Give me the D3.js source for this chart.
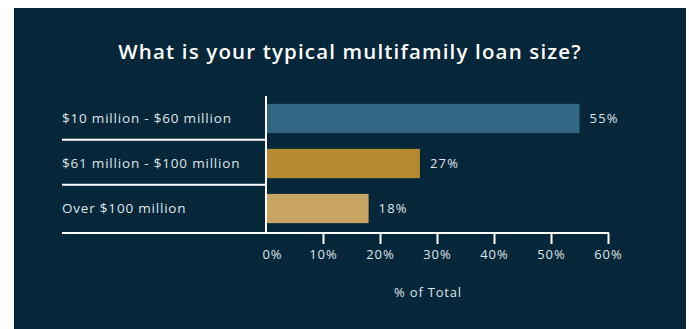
<!DOCTYPE html>
<html>
<head>
<meta charset="utf-8">
<script src="https://cdn.jsdelivr.net/npm/d3@7"></script>
<style>
  html, body { margin: 0; padding: 0; background: #ffffff; }
  svg { display: block; }
  text { font-family: "Open Sans", "Noto Sans", sans-serif; }
</style>
</head>
<body>
<svg id="chart" width="689" height="329"></svg>
<script>
// Loan size buckets and share of respondents (%)
const categories = ["$10 million - $60 million", "$61 million - $100 million", "Over $100 million"];
const shares = [55, 27, 18];
const barColors = ["#336683", "#b68b2f", "#c9a564"];
const xTicks = [0, 10, 20, 30, 40, 50, 60];
const titleText = "What is your typical multifamily loan size?";
const xAxisTitle = "% of Total";

const svg = d3.select("#chart");
const W = 689, H = 329;

// Panel background
svg.append("rect")
  .attr("x", 14).attr("y", 8)
  .attr("width", 672).attr("height", H - 8)
  .attr("fill", "#062739");

svg.append("text")
  .attr("x", 350).attr("y", 59)
  .attr("text-anchor", "middle")
  .attr("fill", "#ffffff")
  .attr("font-size", 20.5)
  .attr("font-weight", 600)
  .attr("letter-spacing", 1.15)
  .text(titleText);

const x = d3.scaleLinear().domain([0, 60]).range([266, 608]);
const y = d3.scaleBand().domain(categories).range([96, 231]).paddingInner(0.35).paddingOuter(0.175);

const labelLeft = 62;
const textColor = "#dfe4e8";

// Row separators just below each bar except the last
const bounds = categories.slice(0, -1).map(c => y(c) + y.bandwidth() + 6.5);
svg.selectAll("line.sep").data(bounds).join("line")
  .attr("class", "sep")
  .attr("x1", labelLeft).attr("x2", x(0))
  .attr("y1", d => d).attr("y2", d => d)
  .attr("stroke", "#ffffff").attr("stroke-width", 2);

// Bars
svg.selectAll("rect.bar").data(shares).join("rect")
  .attr("class", "bar")
  .attr("x", x(0))
  .attr("y", (d, i) => y(categories[i]))
  .attr("width", d => x(d) - x(0))
  .attr("height", y.bandwidth())
  .attr("fill", (d, i) => barColors[i]);

// Value labels
svg.selectAll("text.val").data(shares).join("text")
  .attr("class", "val")
  .attr("x", d => x(d) + 10)
  .attr("y", (d, i) => y(categories[i]) + y.bandwidth() / 2)
  .attr("dy", "0.35em")
  .attr("fill", textColor)
  .attr("font-size", 13)
  .attr("letter-spacing", 1.2)
  .text(d => d + "%");

// Category labels
svg.selectAll("text.cat").data(categories).join("text")
  .attr("class", "cat")
  .attr("x", labelLeft)
  .attr("y", d => y(d) + y.bandwidth() / 2)
  .attr("dy", "0.35em")
  .attr("fill", textColor)
  .attr("font-size", 13.5)
  .attr("letter-spacing", 0.8)
  .text(d => d);

// Vertical axis line
svg.append("line")
  .attr("x1", x(0)).attr("x2", x(0))
  .attr("y1", 96).attr("y2", 233)
  .attr("stroke", "#ffffff").attr("stroke-width", 2);

// Bottom axis
const axisY = 233;
const xAxis = d3.axisBottom(x)
  .tickValues(xTicks)
  .tickFormat(d => d + "%")
  .tickSize(11)
  .tickPadding(6)
  .tickSizeOuter(0);
const gx = svg.append("g").attr("transform", `translate(0,${axisY})`).call(xAxis);
gx.select(".domain").remove();
gx.selectAll(".tick line").attr("stroke", "#ffffff").attr("stroke-width", 2);
gx.selectAll(".tick").filter(d => d === 0).select("line").remove();
gx.selectAll(".tick text")
  .attr("fill", textColor)
  .attr("font-size", 13)
  .attr("letter-spacing", 1)
  .attr("font-family", "\"Open Sans\", sans-serif");
// keep the 0% label clear of the vertical axis line
gx.selectAll(".tick").filter(d => d === 0).select("text").attr("dx", 6);

svg.append("line")
  .attr("x1", labelLeft).attr("x2", x(60) + 1)
  .attr("y1", axisY).attr("y2", axisY)
  .attr("stroke", "#ffffff").attr("stroke-width", 2);

svg.append("text")
  .attr("x", 428).attr("y", 292)
  .attr("dy", "0.35em")
  .attr("text-anchor", "middle")
  .attr("fill", textColor)
  .attr("font-size", 13)
  .attr("letter-spacing", 0.8)
  .text(xAxisTitle);
</script>
</body>
</html>
